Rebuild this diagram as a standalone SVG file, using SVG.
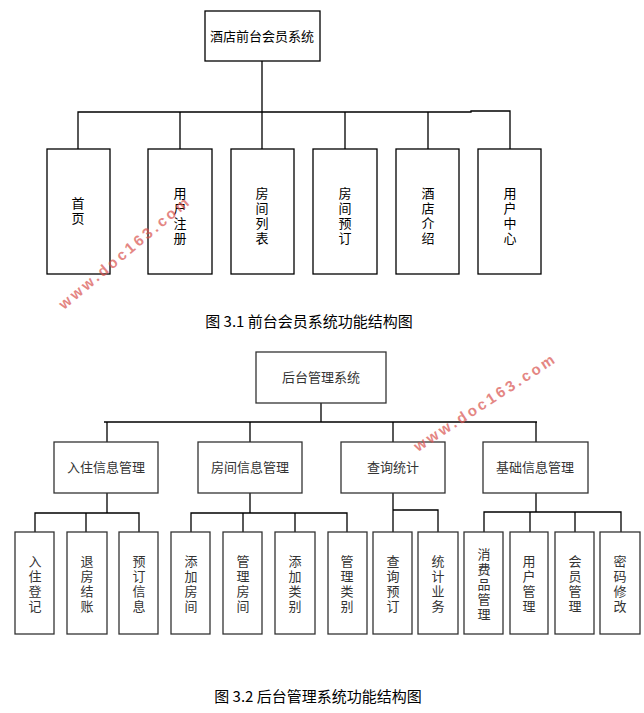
<svg xmlns="http://www.w3.org/2000/svg" width="644" height="713" viewBox="0 0 644 713">
<style>
rect{fill:#fff;stroke:#000;stroke-width:1.3}
#b rect{stroke:#333}
.c path{fill:none;stroke:#000;stroke-width:1.3}
text{font-family:"Noto Sans CJK SC","Liberation Serif",serif;font-size:13px;fill:#000;text-anchor:middle}
.v{writing-mode:vertical-rl;letter-spacing:2px}
#b text{fill:#333}
.cap{font-size:15px}
text.wm{font-family:"Liberation Sans",sans-serif;font-weight:bold;font-size:15px;fill:#d9534f;opacity:0.7;letter-spacing:3px;text-anchor:start}
</style>
<rect x="0" y="0" width="644" height="713" style="fill:#fff;stroke:none"/>
<g class="c" id="conn1"><path d="M262 61V112M78 149V112H471V111H510V149M180 112V149M262 112V149M345 112V149M428 112V149"/></g>
<g id="t-root"><rect x="205" y="11" width="115" height="50"/><text x="262" y="41">酒店前台会员系统</text></g>
<g id="t1"><rect x="47" y="149" width="63" height="125"/><text class="v" x="78" y="212">首页</text></g>
<g id="t2"><rect x="148" y="149" width="64" height="125"/><text class="v" x="180" y="217">用户注册</text></g>
<g id="t3"><rect x="231" y="149" width="63" height="125"/><text class="v" x="262" y="217">房间列表</text></g>
<g id="t4"><rect x="313" y="149" width="64" height="125"/><text class="v" x="345" y="217">房间预订</text></g>
<g id="t5"><rect x="396" y="149" width="63" height="125"/><text class="v" x="428" y="217">酒店介绍</text></g>
<g id="t6"><rect x="478" y="149" width="63" height="125"/><text class="v" x="510" y="217">用户中心</text></g>
<text class="cap" x="309" y="327">图 3.1  前台会员系统功能结构图</text>

<g id="b">
<g class="c" id="conn2"><path d="M321 403V422M104 422H537M107 422V442M250 422V442M393 422V442M536 422V442
M107 493V513M35 532V513H139V532M86 513V532
M250 493V513M191 532V513H347V532M243 513V532M295 513V532
M393 493V532M393 510H438V532
M536 493V512M484 532V512H621V532M530 512V532M575 512V532"/></g>
<g id="b-root"><rect x="256" y="352" width="130" height="51"/><text x="321" y="382">后台管理系统</text></g>
<g id="m1"><rect x="54" y="442" width="104" height="51"/><text x="106" y="472">入住信息管理</text></g>
<g id="m2"><rect x="198" y="442" width="104" height="51"/><text x="250" y="472">房间信息管理</text></g>
<g id="m3"><rect x="341" y="442" width="104" height="51"/><text x="393" y="472">查询统计</text></g>
<g id="m4"><rect x="483" y="442" width="105" height="51"/><text x="535" y="472">基础信息管理</text></g>
<g id="l1"><rect x="15" y="532" width="39" height="102"/><text class="v" x="35" y="585">入住登记</text></g>
<g id="l2"><rect x="67" y="532" width="40" height="102"/><text class="v" x="87" y="585">退房结账</text></g>
<g id="l3"><rect x="119" y="532" width="39" height="102"/><text class="v" x="139" y="585">预订信息</text></g>
<g id="l4"><rect x="171" y="532" width="39" height="102"/><text class="v" x="191" y="585">添加房间</text></g>
<g id="l5"><rect x="223" y="532" width="39" height="102"/><text class="v" x="243" y="585">管理房间</text></g>
<g id="l6"><rect x="275" y="532" width="40" height="102"/><text class="v" x="295" y="585">添加类别</text></g>
<g id="l7"><rect x="328" y="532" width="39" height="102"/><text class="v" x="347" y="585">管理类别</text></g>
<g id="l8"><rect x="373" y="532" width="39" height="102"/><text class="v" x="393" y="585">查询预订</text></g>
<g id="l9"><rect x="418" y="532" width="40" height="102"/><text class="v" x="438" y="585">统计业务</text></g>
<g id="l10"><rect x="464" y="532" width="39" height="102"/><text class="v" x="484" y="585">消费品管理</text></g>
<g id="l11"><rect x="510" y="532" width="38" height="102"/><text class="v" x="529" y="585">用户管理</text></g>
<g id="l12"><rect x="555" y="532" width="39" height="102"/><text class="v" x="575" y="585">会员管理</text></g>
<g id="l13"><rect x="600" y="532" width="40" height="102"/><text class="v" x="620" y="585">密码修改</text></g>
</g>
<text class="cap" x="318" y="702">图 3.2  后台管理系统功能结构图</text>
<text class="wm" x="0" y="0" transform="translate(64,310) rotate(-40)">www.doc163.com</text>
<text class="wm" x="0" y="0" transform="translate(418,452) rotate(-33)">www.doc163.com</text>
</svg>
